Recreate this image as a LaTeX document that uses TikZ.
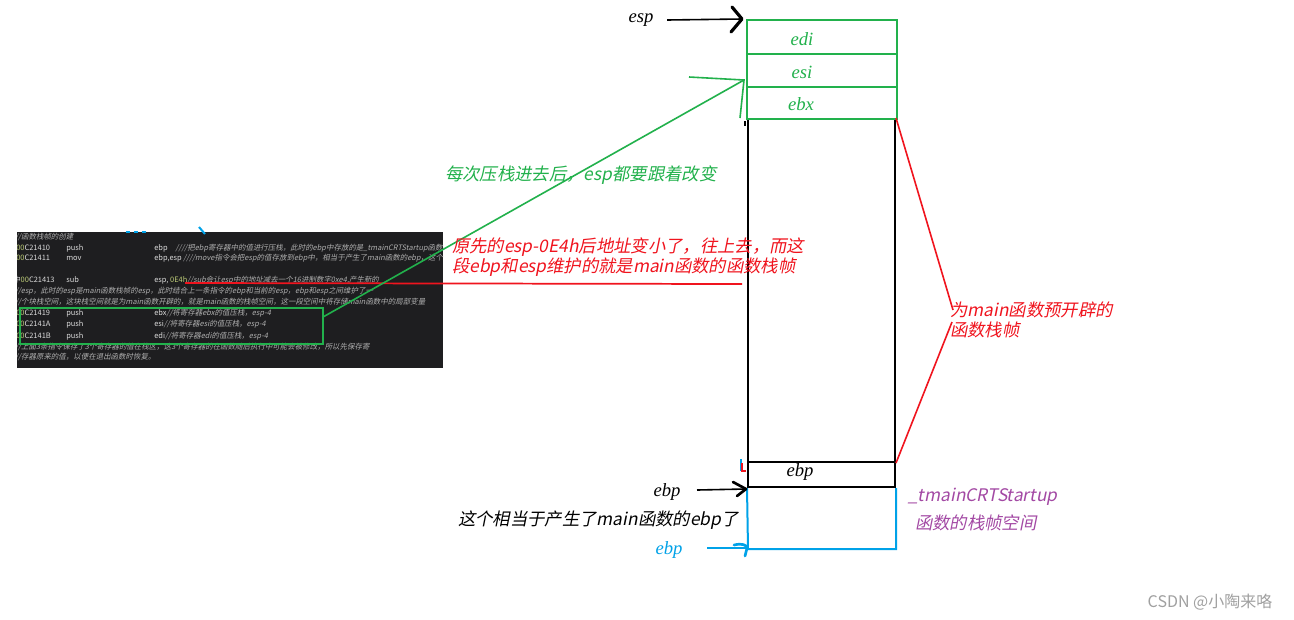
\documentclass[tikz,border=0pt]{standalone}
\usepackage{fontspec}
\setmainfont{Liberation Serif}
\newfontfamily\cjk[FakeSlant=0.2]{Noto Sans CJK SC}
\newfontfamily\cjkup{Noto Sans CJK SC}
\definecolor{pgreen}{RGB}{34,177,76}
\definecolor{pred}{RGB}{240,20,30}
\definecolor{pblue}{RGB}{0,162,232}
\definecolor{ppurple}{RGB}{163,73,164}
\definecolor{codebg}{RGB}{30,30,32}
\definecolor{codefg}{RGB}{220,220,220}
\definecolor{codecm}{RGB}{175,175,175}
\definecolor{addrc}{RGB}{190,205,120}
\definecolor{wm}{RGB}{160,160,160}
\newcommand{\addr}[1]{{\color{addrc}#1}}
\tikzset{
  ct/.style={anchor=west, inner sep=0, text=codefg, font=\cjkup\fontsize{5.6}{7}\selectfont},
  cmt/.style={anchor=west, inner sep=0, text=codecm, font=\cjk\fontsize{5.6}{7}\selectfont},
  lbl/.style={anchor=west, inner sep=0, font=\cjk\fontsize{13}{15}\selectfont},
  reg/.style={inner sep=0, font=\itshape\fontsize{14}{16}\selectfont},
  gbox/.style={draw=pgreen, line width=1.5pt, minimum width=112.5pt, inner sep=0},
  kbox/.style={draw=black, line width=1.5pt, minimum width=110.25pt, inner sep=0},
  handk/.style={draw=black, line width=2.4pt, line cap=round, line join=round},
  gline/.style={line width=1.2pt},
}
\begin{document}
\begin{tikzpicture}[x=0.75pt,y=-0.75pt]
\useasboundingbox (0,0) rectangle (1294,619);
\fill[white] (0,0) rectangle (1294,619);

% ---------- code screenshot ----------
\node[fill=codebg, minimum width=319.5pt, minimum height=102pt, inner sep=0] (code) at (230,300) {};
\begin{scope}
\clip (17,232) rectangle (443,368);
\node[cmt] (r1) at (15,237) {//函数栈帧的创建};
\node[ct] (a2) at (16,248) {\addr{00}C21410};
\node[ct] (i2) at (66,248) {push};
\node[ct] (o2) at (154,248) {ebp\hspace{6pt}{\color{codecm}\cjk ////把ebp寄存器中的值进行压栈，此时的ebp中存放的是\_tmainCRTStartup函数栈帧的ebp}};
\node[ct] (a3) at (16,258) {\addr{00}C21411};
\node[ct] (i3) at (66,258) {mov};
\node[ct] (o3) at (154,258) {ebp,esp {\color{codecm}\cjk ////move指令会把esp的值存放到ebp中，相当于产生了main函数的ebp，这个值就是}};
\node[ct] (a4) at (13,280) {中\addr{00}C21413};
\node[ct] (i4) at (66,280) {sub};
\node[ct] (o4) at (154,280) {esp, \addr{0E4h}{\color{codecm}\cjk //sub会让esp中的地址减去一个16进制数字0xe4,产生新的}};
\node[cmt] (r5) at (15,291) {//esp，此时的esp是main函数栈帧的esp，此时结合上一条指令的ebp和当前的esp，ebp和esp之间维护了一};
\node[cmt] (r6) at (15,302) {//个块栈空间，这块栈空间就是为main函数开辟的，就是main函数的栈帧空间，这一段空间中将存储main函数中的局部变量};
\node[ct] (a7) at (16,313) {\addr{00}C21419};
\node[ct] (i7) at (66,313) {push};
\node[ct] (o7) at (154,313) {ebx{\color{codecm}\cjk //将寄存器ebx的值压栈，esp-4}};
\node[ct] (a8) at (16,324) {\addr{00}C2141A};
\node[ct] (i8) at (66,324) {push};
\node[ct] (o8) at (154,324) {esi{\color{codecm}\cjk //将寄存器esi的值压栈，esp-4}};
\node[ct] (a9) at (16,336) {\addr{00}C2141B};
\node[ct] (i9) at (66,336) {push};
\node[ct] (o9) at (154,336) {edi{\color{codecm}\cjk //将寄存器edi的值压栈，esp-4}};
\node[cmt] (r10) at (15,347) {//上面3条指令保存了3个寄存器的值在栈区，这3个寄存器的在函数随后执行中可能会被修改，所以先保存寄};
\node[cmt] (r11) at (15,357) {//存器原来的值，以便在退出函数时恢复。};
\end{scope}

% small blue marks above the code
\coordinate (bm1) at (199,227); \coordinate (bm2) at (205,234);
\draw[pblue, line width=1.5pt] (bm1) -- (bm2);
\coordinate (bd1) at (126,232); \coordinate (bd2) at (146,232);
\draw[pblue, line width=1.5pt, dash pattern=on 3pt off 3pt] (bd1) -- (bd2);

% green box around pushes
\node[draw=pgreen, line width=1.2pt, minimum width=227.25pt, minimum height=27pt, inner sep=0] (pushbox) at (171.5,326) {};

% red underline
\coordinate (ul1) at (185,283); \coordinate (ul2) at (742,284);
\draw[pred, line width=1.3pt] (ul1) -- (ul2);

% ---------- stack ----------
\node[kbox, minimum height=257.25pt] (body) at (821.5,290.5) {};
\node[kbox, minimum height=18.75pt] (ebpbox) at (821.5,474.5) {};
\node[gbox, minimum height=25.5pt] (edi) at (822,37) {};
\node[gbox, minimum height=24.75pt] (esi) at (822,70.5) {};
\node[gbox, minimum height=24pt] (ebx) at (822,103) {};
\node[reg, text=pgreen] (ediL) at (802,39) {edi};
\node[reg, text=pgreen] (esiL) at (802,72) {esi};
\node[reg, text=pgreen] (ebxL) at (801,104) {ebx};
\node[reg] (ebpL) at (800,472) {ebp};

% blue frame below
\coordinate (blueBL) at (748,549); \coordinate (blueBR) at (896,549);
\draw[pblue, line width=1.5pt] (ebpbox.south west) -- (blueBL) -- (blueBR) -- (ebpbox.south east);

% tiny marks left of ebp box
\coordinate (tm1) at (741,459); \coordinate (tm2) at (741,471);
\draw[pblue, line width=1pt] (tm1) -- (tm2);
\coordinate (tr1) at (742,463); \coordinate (tr2) at (742,471); \coordinate (tr3) at (746,471);
\draw[pred, line width=1pt] (tr1) -- (tr2) -- (tr3);
\coordinate (km1) at (745,121); \coordinate (km2) at (745,126);
\draw[black, line width=0.8pt] (km1) -- (km2);

% esp arrow
\node[reg] (espL) at (641,20) {esp};
\coordinate (espT) at (667,20); \coordinate (espH) at (742,19);
\coordinate (espC1) at (732,7); \coordinate (espC2) at (731,32);
\draw[black, line width=1.2pt] (espT) -- (espH);
\draw[handk] (espC1) -- (espH) -- (espC2);

% ebp (black) arrow
\node[reg] (ebpA) at (667,492) {ebp};
\coordinate (ebpT) at (697,490); \coordinate (ebpH) at (746,489);
\coordinate (ebpC1) at (733,482); \coordinate (ebpC2) at (737,496);
\draw[black, line width=1.2pt] (ebpT) -- (ebpH);
\draw[handk, line width=2pt] (ebpC1) -- (ebpH) -- (ebpC2);

% ebp (blue) arrow
\node[reg, text=pblue] (ebpB) at (669,550) {ebp};
\coordinate (bT) at (707,548); \coordinate (bH) at (747,548);
\coordinate (bC1) at (734,545); \coordinate (bC2) at (745,556);
\draw[pblue, line width=1.5pt] (bT) -- (bH);
\draw[pblue, line width=2pt, line cap=round] (bC1) .. controls (742,543) and (747,545) .. (bH) -- (bC2);

% green pointer
\coordinate (gStart) at (323,317);
\coordinate (gTip) at (744,80);
\coordinate (gW1) at (689,77); \coordinate (gW2) at (740,118);
\draw[pgreen, gline] (gStart) -- (gTip);
\draw[pgreen, gline] (gW1) -- (gTip) -- (gW2);
\node[lbl, text=pgreen] (gL) at (445,175) {每次压栈进去后，esp都要跟着改变};

% red annotation
\node[lbl, text=pred, align=left, anchor=north west] (rL) at (452,238) {原先的esp-0E4h后地址变小了，往上去，而这\\段ebp和esp维护的就是main函数的函数栈帧};

% red brace lines at right
\coordinate (rA) at (953,310); \coordinate (rB) at (952,322);
\draw[pred, gline] (body.north east) -- (rA);
\draw[pred, gline] (rB) -- (body.south east);
\node[lbl, text=pred, align=left, anchor=north west] (rR) at (950,302) {为main函数预开辟的\\函数栈帧};

% black note
\node[lbl, text=black] (kL) at (458,520) {这个相当于产生了main函数的ebp了};

% purple note
\node[lbl, text=ppurple] (pL1) at (908,497) {\_tmainCRTStartup};
\node[lbl, text=ppurple] (pL2) at (915,523) {函数的栈帧空间};

% watermark
\node[inner sep=0, text=wm, font=\cjkup\fontsize{12}{14}\selectfont] (wmk) at (1210,602) {CSDN @小陶来咯};
\end{tikzpicture}
\end{document}
